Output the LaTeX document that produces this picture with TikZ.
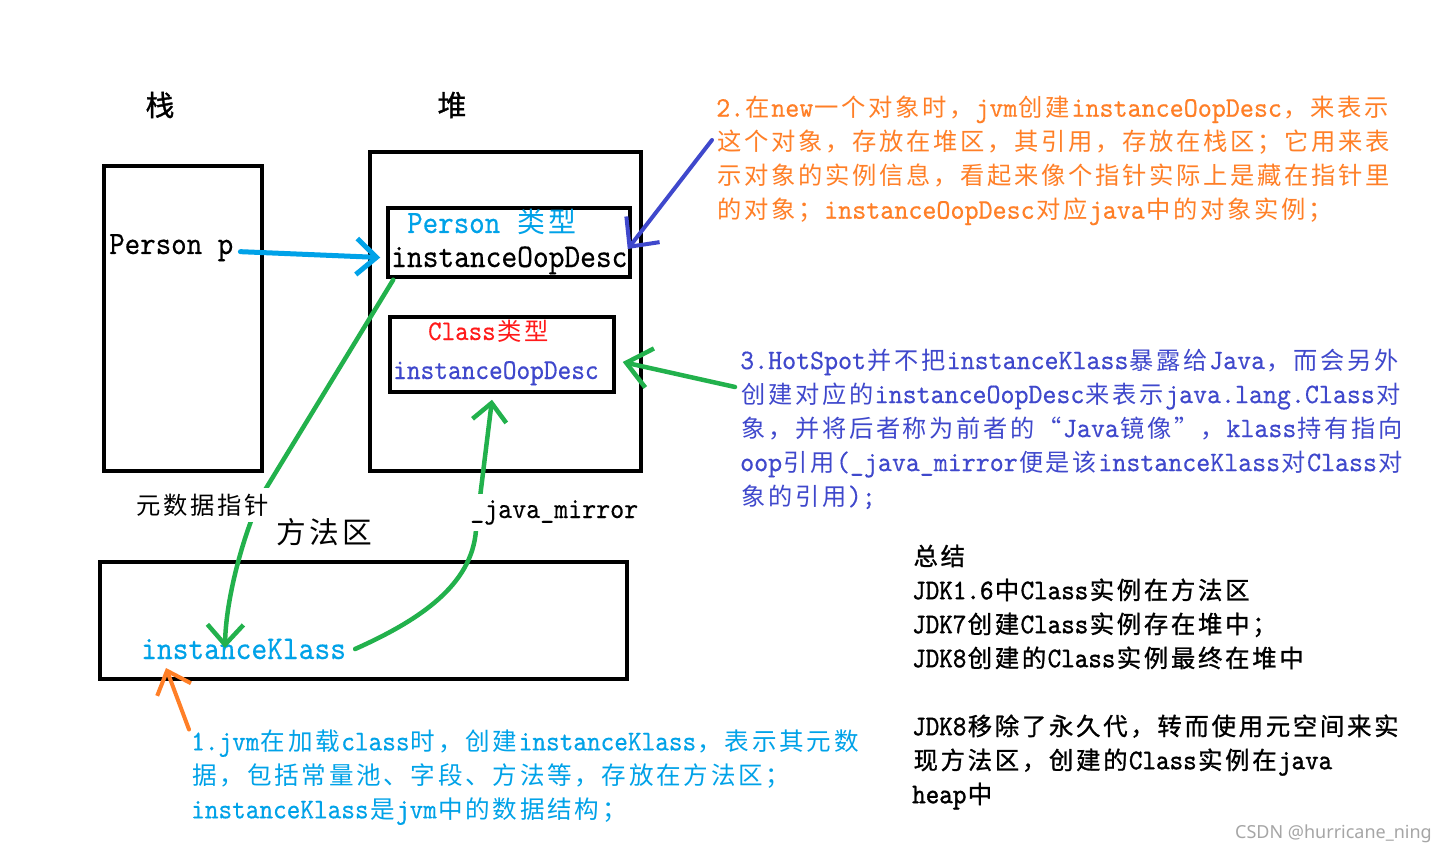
\documentclass[tikz,border=0pt]{standalone}
\usepackage{fontspec}
\usetikzlibrary{arrows.meta}
\setmainfont{Liberation Serif}
\newfontfamily\cjkR[Scale=0.9]{Noto Sans CJK SC}
\newfontfamily\cjkB[Scale=0.9,FakeBold=1]{Noto Sans CJK SC}
\newfontfamily\latR[Scale=1.05,FakeStretch=0.907,FakeBold=0.4]{lmmono10-regular.otf}
\newfontfamily\latW[Scale=1.05,FakeStretch=0.943,FakeBold=0.4]{lmmono10-regular.otf}
\newfontfamily\latB[Scale=1.05,FakeStretch=0.907,FakeBold=1.2]{lmmono10-regular.otf}
\newfontfamily\wmfont{Noto Sans}
\newcommand\cjkfont{\cjkR}
\newcommand\latfont{\latR}
\chardef\CJKcls=7
\newcount\mycnt
\def\setcjkrange#1#2{\mycnt=#1\relax\loop\XeTeXcharclass\mycnt=\CJKcls\advance\mycnt by 1\relax\ifnum\mycnt<#2\relax\repeat}
\setcjkrange{"3000}{"3040}
\setcjkrange{"4E00}{"A000}
\setcjkrange{"FF00}{"FFF0}
\XeTeXcharclass"201C=\CJKcls
\XeTeXcharclass"201D=\CJKcls
\XeTeXinterchartoks 0 \CJKcls = {\cjkfont\kern.0555em\relax}
\XeTeXinterchartoks 4095 \CJKcls = {\cjkfont\kern.0555em\relax}
\XeTeXinterchartoks \CJKcls \CJKcls = {\kern.111em\relax}
\XeTeXinterchartoks \CJKcls 0 = {\kern.0555em\relax\latfont}
\XeTeXinterchartoks \CJKcls 4095 = {\kern.0555em\relax}
\XeTeXinterchartoks 4095 0 = {\latfont}
\definecolor{pcyan}{HTML}{00A2E8}
\definecolor{pgreen}{HTML}{22B14C}
\definecolor{porange}{HTML}{FF7F27}
\definecolor{pindigo}{HTML}{3F48CC}
\definecolor{pred}{HTML}{FF1A1A}
\tikzset{
  mix/.style={inner sep=0pt, font={\XeTeXinterchartokenstate=1\relax\fontsize{#1}{34}\selectfont\latfont}},
  mixw/.style={inner sep=0pt, font={\XeTeXinterchartokenstate=1\relax\let\latfont\latW\fontsize{#1}{34}\selectfont\latfont}},
  mixb/.style={inner sep=0pt, font={\XeTeXinterchartokenstate=1\relax\let\cjkfont\cjkB\let\latfont\latB\fontsize{#1}{34}\selectfont\latfont}},
  box/.style={draw, line width=#1, inner sep=0pt},
  conn/.style={line width=4.5pt, line cap=round, -{Straight Barb[length=20pt,width=36pt]}},
}
\begin{document}
\begin{tikzpicture}[x=1pt,y=-1pt]
\fill[white] (0,0) rectangle (1446,853);
\useasboundingbox (0,0) rectangle (1446,853);
% boxes
\node[box=4.5pt, minimum width=158pt, minimum height=305pt] (stack) at (183,318.5) {};
\node[box=4.5pt, minimum width=271pt, minimum height=319pt] (heap) at (505.5,311.5) {};
\node[box=3.5pt, minimum width=242pt, minimum height=69pt] (pbox) at (509,242.5) {};
\node[box=3.5pt, minimum width=224pt, minimum height=75pt] (cbox) at (502,354.5) {};
\node[box=4.5pt, minimum width=527pt, minimum height=117pt] (method) at (363.5,620.5) {};
% titles
\node[mixb=32] (zhan) at (160,105) {栈};
\node[mixb=32] (dui) at (452,105) {堆};
\node[mix=33] (ff) at (324,532) {方法区};
% texts in boxes
\node[mix=31, anchor=base west] (pp) at (109,254) {Person p};
\node[mix=31, anchor=base west, text=pcyan] (ptype) at (407,233) {Person 类型};
\node[mix=31.5, anchor=base west] (pdesc) at (391,267) {instanceOopDesc};
\node[mix=27, anchor=base west, text=pred] (ctype) at (428,340) {Class类型};
\node[mix=27.4, anchor=base west, text=pindigo] (cdesc) at (393,379) {instanceOopDesc};
\node[mix=31.5, anchor=base west, text=pcyan] (ik) at (141,659) {instanceKlass};
% explanation texts
\node[mixw=27.0, anchor=north west, align=left, text=porange] (t2) at (716,96)
 {2.在new一个对象时，jvm创建instanceOopDesc，来表示\\这个对象，存放在堆区，其引用，存放在栈区；它用来表\\示对象的实例信息，看起来像个指针实际上是藏在指针里\\的对象；instanceOopDesc对应java中的对象实例；};
\node[mixw=26.9, anchor=north west, align=left, text=pindigo] (t3) at (740,348.5)
 {3.HotSpot并不把instanceKlass暴露给Java，而会另外\\创建对应的instanceOopDesc来表示java.lang.Class对\\象，并将后者称为前者的“Java镜像”，klass持有指向\\oop引用(\_java\_mirror便是该instanceKlass对Class对\\象的引用);};
\node[mix=27.3, anchor=north west, align=left, text=pcyan] (t1) at (191,729.5)
 {1.jvm在加载class时，创建instanceKlass，表示其元数\\据，包括常量池、字段、方法等，存放在方法区；\\instanceKlass是jvm中的数据结构；};
\node[mixb=27.1, anchor=north west, align=left] (sum) at (912,544.5)
 {总结\\JDK1.6中Class实例在方法区\\JDK7创建Class实例存在堆中；\\JDK8创建的Class实例最终在堆中\\[34pt]JDK8移除了永久代，转而使用元空间来实\\现方法区，创建的Class实例在java\\heap中};
% connectors
\draw[conn, pcyan, line width=5pt] ([shift={(7pt,-4pt)}]pp.east) -- ([shift={(-6pt,-15pt)}]pbox.west);
\draw[conn, pindigo, line width=4pt, -{Straight Barb[length=22pt,width=42pt]}] ([shift={(-4pt,-44pt)}]t2.north west) -- ([shift={(-4pt,-6.5pt)}]pbox.east);
\draw[conn, pgreen, -{Straight Barb[length=24pt,width=40pt]}] ([shift={(-5pt,-38.5pt)}]t3.north west) -- ([shift={(7pt,-7.5pt)}]cbox.east);
\draw[conn, pgreen] ([shift={(7pt,-1pt)}]pbox.south west) -- (265,490) .. controls (250,515) and (226,590) .. ([shift={(84pt,11pt)}]ik.base west);
\draw[conn, pgreen, -{Straight Barb[length=18pt,width=34pt]}] ([xshift=9pt]ik.east) .. controls (420,620) and (472,585) .. (476,530) -- ([shift={(-10pt,-6pt)}]cbox.south);
\draw[conn, porange, line width=4pt] ([xshift=-2pt]t1.north west) -- ([shift={(25pt,-9pt)}]ik.base west);
% labels over connectors
\node[mix=27, fill=white, inner ysep=6pt] (meta) at (203,505) {元数据指针};
\node[mix=28, anchor=base west, fill=white, inner xsep=0pt, inner ysep=6pt] (jm) at (470,518) {\_java\_mirror};
% watermark
\node[inner sep=0pt, font={\fontsize{18}{20}\selectfont\wmfont}, text=black!35, anchor=base east] (wm) at (1432,838) {CSDN @hurricane\_ning};
\end{tikzpicture}
\end{document}
